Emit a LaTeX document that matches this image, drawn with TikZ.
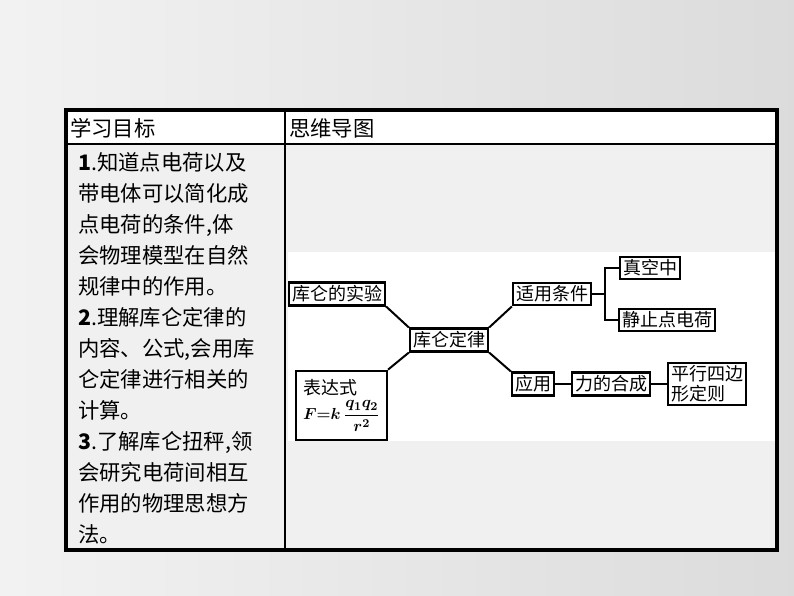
\documentclass[tikz,border=0pt]{standalone}
\usepackage{fontspec}
\newfontfamily\cjk{Noto Sans CJK SC}
\newcommand\lawformula{{\fontsize{13}{15}\selectfont\boldmath$\displaystyle F{=}k\,\frac{q_1q_2}{r^2}$}}
\tikzset{
  px/.style={x=0.75pt,y=-0.75pt},
  mbox/.style={draw,line width=1.8pt,inner sep=2.2pt,font=\cjk\fontsize{13.5}{16}\selectfont,fill=white},
  conn/.style={line width=1.5pt},
  lt/.style={anchor=base west,inner sep=0pt,font=\cjk\fontsize{16}{18}\selectfont}
}
\begin{document}
\begin{tikzpicture}[px]
\useasboundingbox (0,0) rectangle (794,596);
\shade[left color=gray!10,right color=gray!28] (0,0) rectangle (794,596);
% table
\fill[gray!12] (66,110) rectangle (777,550);
\fill[white] (66,110) rectangle (777,144);
\fill[white] (288,252) rectangle (777,441);
\draw[line width=2.6pt] (66,110) rectangle (777,550);
\draw[line width=2pt] (66,144) -- (777,144);
\draw[line width=2pt] (285,110) -- (285,550);
\node[lt] (h1) at (70,136) {学习目标};
\node[lt] (h2) at (289,136) {思维导图};
\node[lt] (l0) at (78,170) {\textbf{1}.知道点电荷以及};
\node[lt] (l1) at (78,201) {带电体可以简化成};
\node[lt] (l2) at (78,232) {点电荷的条件,体};
\node[lt] (l3) at (78,263) {会物理模型在自然};
\node[lt] (l4) at (78,294) {规律中的作用。};
\node[lt] (l5) at (78,325) {\textbf{2}.理解库仑定律的};
\node[lt] (l6) at (78,356) {内容、公式,会用库};
\node[lt] (l7) at (78,387) {仑定律进行相关的};
\node[lt] (l8) at (78,418) {计算。};
\node[lt] (l9) at (78,449) {\textbf{3}.了解库仑扭秤,领};
\node[lt] (l10) at (78,480) {会研究电荷间相互};
\node[lt] (l11) at (78,511) {作用的物理思想方};
\node[lt] (l12) at (78,542) {法。};
% mind map
\node[mbox] (exp) at (337,294) {库仑的实验};
\node[mbox] (law) at (449,340) {库仑定律};
\node[mbox,align=left,minimum width=68pt,minimum height=52pt,inner sep=1pt] (expr) at (341.5,405.5) {表达式\\[3pt] \lawformula};
\node[mbox] (cond) at (552,294) {适用条件};
\node[mbox] (vac) at (650,268) {真空中};
\node[mbox] (stat) at (667,320) {静止点电荷};
\node[mbox] (app) at (533,384) {应用};
\node[mbox] (force) at (611,384) {力的合成};
\node[mbox,align=left,font=\cjk\fontsize{13.5}{15}\selectfont] (para) at (707,384) {平行四边\\形定则};
\draw[conn] (exp.south east) -- (law.north west);
\draw[conn] (law.north east) -- (cond.south west);
\draw[conn] (law.south west) -- (expr.north east);
\draw[conn] (law.south east) -- (app.north west);
\coordinate (br) at (605,294);
\draw[conn] (cond.east) -- (br);
\draw[conn] (vac.west) -| (br) |- (stat.west);
\draw[conn] (app) -- (force);
\draw[conn] (force) -- (para);
\end{tikzpicture}
\end{document}
